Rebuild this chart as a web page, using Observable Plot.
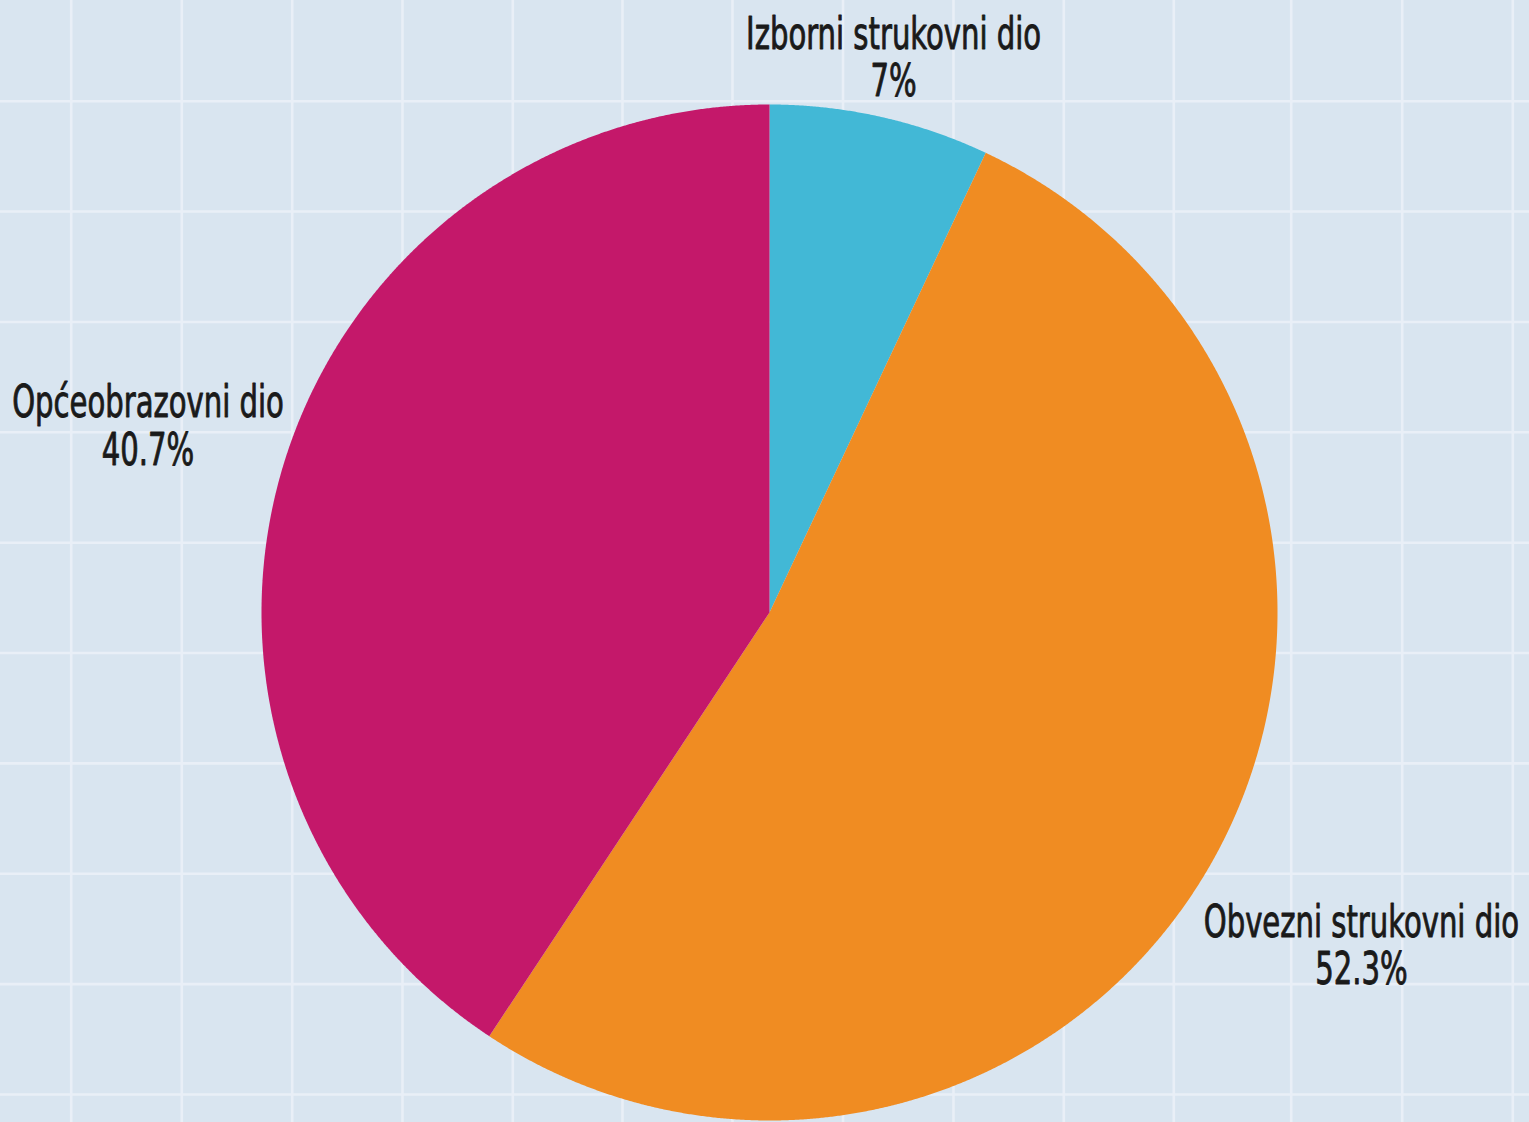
<!DOCTYPE html>
<html>
<head>
<meta charset="utf-8">
<script src="https://cdn.jsdelivr.net/npm/d3@7"></script>
<script src="https://cdn.jsdelivr.net/npm/@observablehq/plot@0.6"></script>
<style>
  html, body { margin: 0; padding: 0; background: #d9e5f0; overflow: hidden; }
  #chart svg { display: block; }
</style>
</head>
<body>
<div id="chart"></div>
<script>
// ---- data ----
const categories = ["Izborni strukovni dio", "Obvezni strukovni dio", "Općeobrazovni dio"];
const shares = [7, 52.3, 40.7];
const valueLabels = ["7%", "52.3%", "40.7%"];
const colors = ["#42b8d6", "#f08c22", "#c4186a"];

// ---- layout (not data) ----
const W = 1529, H = 1122;
const cx = 769, cy = 612, R = 508;
const labelDistance = [569, 679, 649];
const gridXs = [70.7, 181.3, 291.7, 402, 512.3, 622, 732, 842.5, 953, 1063.3, 1173.3, 1290.7, 1401.7, 1512.3];
const gridYs = d3.range(10).map(i => 100.7 + i * 110.37);

const rows = categories.map((c, i) => ({category: c, share: shares[i], valueLabel: valueLabels[i]}));
const arcs = d3.pie().value(d => d.share).sort(null)(rows);

// polygon outline for each slice (center + arc), drawn via Plot's x/y scales
const slicePoints = [];
arcs.forEach(a => {
  const cat = a.data.category;
  slicePoints.push({cat, px: cx, py: cy});
  const n = Math.max(2, Math.ceil((a.endAngle - a.startAngle) / 0.003));
  for (let k = 0; k <= n; k++) {
    const t = a.startAngle + (a.endAngle - a.startAngle) * k / n;
    slicePoints.push({cat, px: cx + R * Math.sin(t), py: cy - R * Math.cos(t)});
  }
  slicePoints.push({cat, px: cx, py: cy});
});

const labels = arcs.map((a, i) => {
  const m = (a.startAngle + a.endAngle) / 2;
  return {
    text: a.data.category + "\n" + a.data.valueLabel,
    px: cx + labelDistance[i] * Math.sin(m),
    py: cy - labelDistance[i] * Math.cos(m)
  };
});

const chart = Plot.plot({
  width: W,
  height: H,
  margin: 0,
  x: {domain: [0, W], axis: null},
  y: {domain: [0, H], reverse: true, axis: null},
  color: {domain: categories, range: colors},
  style: {background: "#d9e5f0", overflow: "visible"},
  marks: [
    Plot.ruleX(gridXs, {x: d => d, stroke: "#e9eff7", strokeWidth: 2.6, strokeOpacity: 1}),
    Plot.ruleY(gridYs, {y: d => d, stroke: "#e9eff7", strokeWidth: 2.6, strokeOpacity: 1}),
    Plot.line(slicePoints, {x: "px", y: "py", z: "cat", fill: "cat", stroke: "none", curve: "linear"}),
    Plot.text(labels, {
      x: "px", y: "py", text: "text",
      fontSize: 44, lineHeight: 1.08,
      fontFamily: "'DejaVu Sans Condensed', 'DejaVu Sans', sans-serif",
      fill: "#1a1a1a",
      stroke: "#1a1a1a", strokeWidth: 0.9,
      className: "pie-labels"
    })
  ]
});

document.getElementById("chart").appendChild(chart);

// horizontal condensing of the labels to mimic the narrow display face
chart.querySelectorAll(".pie-labels text").forEach(t => {
  const tr = t.getAttribute("transform") || "";
  t.setAttribute("transform", tr + " scale(0.735,1)");
});
</script>
</body>
</html>
